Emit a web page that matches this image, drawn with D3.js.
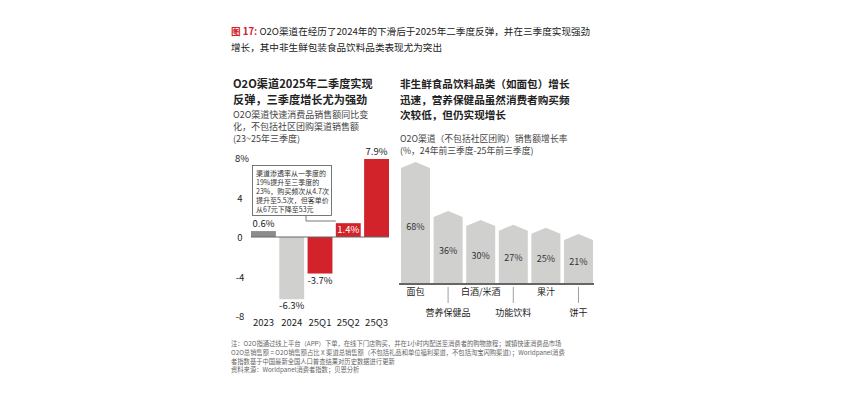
<!DOCTYPE html>
<meta charset="utf-8">
<style>
  body { margin: 0; background: #fff; }
  svg { font-family: "Noto Sans CJK SC", "Noto Sans", sans-serif; }
</style>
<body>
<div id="chart"></div>
<script src="https://cdn.jsdelivr.net/npm/d3@7"></script>
<script>
  // left panel: O2O growth by period
  const periods = ["2023", "2024", "25Q1", "25Q2", "25Q3"];
  const growth = [0.6, -6.3, -3.7, 1.4, 7.9];
  const growthLabels = ["0.6%", "-6.3%", "-3.7%", "1.4%", "7.9%"];
  const growthTicks = [8, 4, 0, -4, -8];
  const growthTickLabels = ["8%", "4", "0", "-4", "-8"];

  // right panel: category growth
  const categories = ["面包", "营养保健品", "白酒/米酒", "功能饮料", "果汁", "饼干"];
  const catGrowth = [68, 36, 30, 27, 25, 21];

  const noteLines = [
    "注：O2O指通过线上平台（APP）下单，在线下门店购买，并在1小时内配送至消费者的购物旅程；城镇快速消费品市场",
    "O2O总销售额 = O2O销售额占比 X 渠道总销售额（不包括礼品和单位福利渠道，不包括淘宝闪购渠道）；Worldpanel消费",
    "者指数基于中国最新全国人口普查结果对历史数据进行更新",
    "资料来源：Worldpanel消费者指数；贝恩分析"
  ];

  const width = 859, height = 399;
  const red = "#d2232b", grey = "#d0d0cf", dark = "#222";

  const svg = d3.select("#chart").append("svg")
    .attr("width", width)
    .attr("height", height);

  // heading
  const head = svg.append("text").attr("x", 231).attr("y", 35)
    .attr("font-size", 9.6).attr("fill", dark);
  head.append("tspan").attr("fill", red).attr("font-weight", "bold").text("图 17: ");
  head.append("tspan").text("O2O渠道在经历了2024年的下滑后于2025年二季度反弹，并在三季度实现强劲");
  svg.append("text").attr("x", 231).attr("y", 51)
    .attr("font-size", 9.6).attr("fill", dark)
    .text("增长，其中非生鲜包装食品饮料品类表现尤为突出");

  function lines(x, y, arr, size, lh, opts) {
    const t = svg.append("text").attr("x", x).attr("y", y)
      .attr("font-size", size).attr("fill", opts.fill || dark)
      .attr("font-weight", opts.weight || "normal");
    arr.forEach((s, i) => t.append("tspan").attr("x", x).attr("dy", i ? lh : 0).text(s));
    return t;
  }

  // left titles
  lines(233, 88, ["O2O渠道2025年二季度实现", "反弹，三季度增长尤为强劲"], 11.2, 15.5, {weight: "bold"});
  lines(233, 118, ["O2O渠道快速消费品销售额同比变", "化，不包括社区团购渠道销售额", "(23~25年三季度)"], 9, 12, {fill: "#444"});

  // right titles
  lines(400, 88, ["非生鲜食品饮料品类（如面包）增长", "迅速，营养保健品虽然消费者购买频", "次较低，但仍实现增长"], 10.6, 15.5, {weight: "bold"});
  lines(400, 142, ["O2O渠道（不包括社区团购）销售额增长率", "(%，24年前三季度-25年前三季度)"], 8.8, 12, {fill: "#444"});

  // ---- left bar chart ----
  const x1 = d3.scaleBand().domain(periods).range([251, 389]).paddingInner(0.12).paddingOuter(0);
  const y1 = d3.scaleLinear().domain([-8, 8]).range([316, 158]);

  const left = svg.append("g");
  left.selectAll("text.tick").data(growthTicks).enter().append("text")
    .attr("class", "tick")
    .attr("x", (d, i) => i === 0 ? 235 : 240)
    .attr("y", d => y1(d) + 4)
    .attr("text-anchor", (d, i) => i === 0 ? "start" : "middle")
    .attr("font-size", 9.5).attr("fill", dark)
    .text((d, i) => growthTickLabels[i]);

  left.selectAll("rect.bar").data(growth).enter().append("rect")
    .attr("class", "bar")
    .attr("x", (d, i) => x1(periods[i]))
    .attr("width", x1.bandwidth())
    .attr("y", d => y1(Math.max(0, d)))
    .attr("height", d => Math.abs(y1(d) - y1(0)))
    .attr("fill", (d, i) => i === 0 ? "#8c8c8c" : i === 1 ? grey : red);

  left.append("line")
    .attr("x1", x1.range()[0]).attr("x2", x1.range()[1])
    .attr("y1", y1(0)).attr("y2", y1(0))
    .attr("stroke", "#666").attr("stroke-width", 1.2);

  left.selectAll("text.val").data(growth).enter().append("text")
    .attr("class", "val")
    .attr("x", (d, i) => x1(periods[i]) + x1.bandwidth() / 2)
    .attr("y", (d, i) => i === 3 ? y1(d) + 10 : d >= 0 ? y1(d) - 4 : y1(d) + 10)
    .attr("text-anchor", "middle")
    .attr("font-size", 9.5)
    .attr("fill", (d, i) => i === 3 ? "#fff" : dark)
    .text((d, i) => growthLabels[i]);

  left.selectAll("text.cat").data(periods).enter().append("text")
    .attr("class", "cat")
    .attr("x", d => x1(d) + x1.bandwidth() / 2)
    .attr("y", 326)
    .attr("text-anchor", "middle")
    .attr("font-size", 9.5).attr("fill", dark)
    .text(d => d);

  // callout box
  const q2 = x1("25Q2");
  left.append("path")
    .attr("d", `M306,216 V221 H${q2}`)
    .attr("fill", "none").attr("stroke", "#555").attr("stroke-width", 0.8);
  left.append("rect")
    .attr("x", 252.5).attr("y", 165.5).attr("width", 79).attr("height", 50)
    .attr("fill", "#fff").attr("stroke", "#555").attr("stroke-width", 0.8);
  lines(256, 175.5, ["渠道渗透率从一季度的", "19%提升至三季度的", "23%，购买频次从4.7次", "提升至5.5次，但客单价", "从67元下降至53元"], 7, 9.1, {fill: "#333"});

  // ---- right house-shaped bars ----
  const x2 = d3.scaleBand().domain(categories).range([401, 593]).paddingInner(0.11).paddingOuter(0);
  const y2 = d3.scaleLinear().domain([0, 68]).range([266, 162]);
  const base = 283, roof = 6;

  const right = svg.append("g");
  right.selectAll("path.house").data(catGrowth).enter().append("path")
    .attr("class", "house")
    .attr("d", (d, i) => {
      const x0 = x2(categories[i]), w = x2.bandwidth(), top = y2(d);
      return `M${x0},${base} V${top + roof} L${x0 + w / 2},${top} L${x0 + w},${top + roof} V${base} Z`;
    })
    .attr("fill", grey);

  right.selectAll("text.val").data(catGrowth).enter().append("text")
    .attr("class", "val")
    .attr("x", (d, i) => x2(categories[i]) + x2.bandwidth() / 2)
    .attr("y", d => (y2(d) + base) / 2 + 7)
    .attr("text-anchor", "middle")
    .attr("font-size", 9).attr("fill", "#333")
    .text(d => d + "%");

  right.append("line")
    .attr("x1", 399).attr("x2", 594)
    .attr("y1", base + 1).attr("y2", base + 1)
    .attr("stroke", "#666").attr("stroke-width", 2);

  right.selectAll("line.lead").data(categories.filter((d, i) => i % 2 === 1)).enter().append("line")
    .attr("class", "lead")
    .attr("x1", d => x2(d) + x2.bandwidth() / 2)
    .attr("x2", d => x2(d) + x2.bandwidth() / 2)
    .attr("y1", 287).attr("y2", 303)
    .attr("stroke", "#888").attr("stroke-width", 0.8);

  right.selectAll("text.cat").data(categories).enter().append("text")
    .attr("class", "cat")
    .attr("x", d => x2(d) + x2.bandwidth() / 2)
    .attr("y", (d, i) => i % 2 === 0 ? 295 : 316)
    .attr("text-anchor", "middle")
    .attr("font-size", 9).attr("fill", dark)
    .text(d => d);

  // footnote
  lines(231, 346, noteLines, 6.3, 8.8, {fill: "#666"});
</script>
</body>
